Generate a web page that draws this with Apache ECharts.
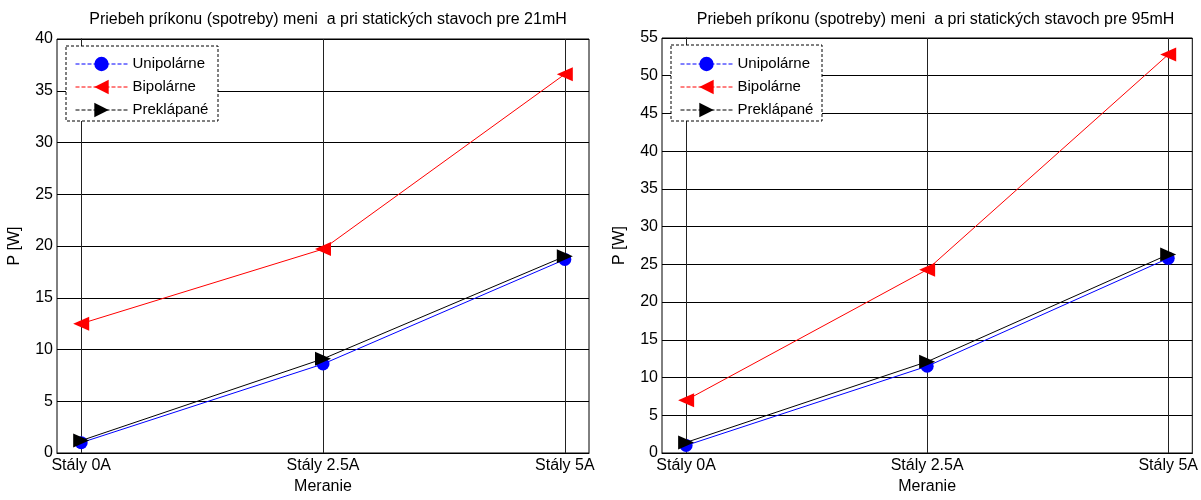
<!DOCTYPE html>
<html>
<head>
<meta charset="utf-8">
<script src="https://cdn.jsdelivr.net/npm/echarts@6/dist/echarts.min.js"></script>
<style>
html,body{margin:0;padding:0;background:#fff;}
#chart{width:1201px;height:500px;}
</style>
</head>
<body>
<div id="chart"></div>
<script>
// ---- data ----
var categories = ['Stály 0A', 'Stály 2.5A', 'Stály 5A'];
var seriesNames = ['Unipolárne', 'Bipolárne', 'Preklápané'];
// 21 mH
var uni21 = [1.0, 8.6, 18.7];
var bip21 = [12.5, 19.7, 36.6];
var pre21 = [1.2, 9.1, 19.0];
// 95 mH
var uni95 = [1.0, 11.5, 25.8];
var bip95 = [7.0, 24.3, 52.8];
var pre95 = [1.4, 12.1, 26.3];
var titles = [
  'Priebeh príkonu (spotreby) meni  a pri statických stavoch pre 21mH',
  'Priebeh príkonu (spotreby) meni  a pri statických stavoch pre 95mH'
];
var yMax = [40, 55];

// ---- chart ----
var FONT = '"Liberation Sans", Arial, sans-serif';
var FS = 16;
var chart = echarts.init(document.getElementById('chart'), null, {renderer: 'canvas'});
var catIdx = categories.map(function (c, i) { return i; });

function pts(arr) { return arr.map(function (v, i) { return [i, v]; }); }

var grids = [
  {left: 57, top: 39, width: 532, height: 421},
  {left: 662, top: 38, width: 537, height: 420}
];

function xAxisFor(g) {
  return {
    type: 'value', gridIndex: g, min: -0.1, max: 2.1,
    name: 'Meranie', nameLocation: 'middle', nameGap: 26,
    nameTextStyle: {color: '#000', fontSize: FS, fontFamily: FONT},
    axisLine: {show: true, onZero: false, lineStyle: {color: '#000', width: 1}},
    axisTick: {show: true, inside: true, length: 5, customValues: catIdx, lineStyle: {color: '#000'}},
    axisLabel: {customValues: catIdx, color: '#000', fontSize: FS, fontFamily: FONT, margin: 5,
      formatter: function (v) { return categories[Math.round(v)]; }},
    splitLine: {show: false}
  };
}
function yAxisFor(g) {
  return {
    type: 'value', gridIndex: g, min: 0, max: yMax[g], interval: 5,
    name: 'P [W]', nameLocation: 'middle', nameGap: 34, nameRotate: 90,
    nameTextStyle: {color: '#000', fontSize: FS, fontFamily: FONT},
    axisLine: {show: true, lineStyle: {color: '#000', width: 1}},
    axisTick: {show: true, inside: true, length: 5, lineStyle: {color: '#000'}},
    axisLabel: {color: '#000', fontSize: FS, fontFamily: FONT, margin: 4},
    splitLine: {show: true, lineStyle: {color: '#000', width: 1, type: 'solid'}}
  };
}

var styles = [
  {color: '#0000ff', symbol: 'circle', size: 13, rotate: 0},
  {color: '#ff0000', symbol: 'triangle', size: [14, 16], rotate: 90},
  {color: '#000000', symbol: 'triangle', size: [14, 16], rotate: -90}
];

var dataSets = [[uni21, bip21, pre21], [uni95, bip95, pre95]];
var series = [];
dataSets.forEach(function (set, g) {
  set.forEach(function (vals, k) {
    var st = styles[k];
    var s = {
      name: seriesNames[k], type: 'line', xAxisIndex: g, yAxisIndex: g,
      data: pts(vals), symbol: st.symbol, symbolSize: st.size, symbolRotate: st.rotate,
      showAllSymbol: true, animation: false,
      lineStyle: {color: st.color, width: 1, type: 'solid'},
      itemStyle: {color: st.color},
      z: 3 + k
    };
    if (k === 0) {
      s.markLine = {
        silent: true, symbol: 'none', animation: false,
        label: {show: false},
        lineStyle: {color: '#222', width: 1, type: 'solid'},
        data: catIdx.map(function (i) { return {xAxis: i}; }),
        z: 1
      };
    }
    series.push(s);
  });
});

function legendFor(left) {
  return {
    orient: 'vertical', left: left, top: 55, z: 10, padding: 0,
    itemWidth: 52, itemHeight: 18, itemGap: 5,
    textStyle: {color: '#000', fontSize: 15, fontFamily: FONT, lineHeight: 18},
    lineStyle: {type: 'dashed', width: 1},
    data: seriesNames.map(function (n, k) {
      return {name: n, lineStyle: {color: styles[k].color, type: 'dashed', width: 1}};
    }),
    selectedMode: false
  };
}

var option = {
  animation: false,
  backgroundColor: '#fff',
  title: titles.map(function (t, g) {
    return {
      text: t, left: grids[g].left + grids[g].width / 2, top: 7, textAlign: 'center',
      textStyle: {color: '#000', fontWeight: 'normal', fontSize: FS, fontFamily: FONT}
    };
  }),
  grid: grids.map(function (g) {
    return {left: g.left, top: g.top, width: g.width, height: g.height, show: true,
      borderColor: '#000', borderWidth: 1, backgroundColor: 'transparent', containLabel: false};
  }),
  xAxis: [xAxisFor(0), xAxisFor(1)],
  yAxis: [yAxisFor(0), yAxisFor(1)],
  legend: [legendFor(75), legendFor(680)],
  graphic: [
    {type: 'rect', z: 5, shape: {x: 66, y: 46, width: 152, height: 75},
      style: {fill: '#fff', stroke: '#000', lineWidth: 1, lineDash: [3, 2]}},
    {type: 'rect', z: 5, shape: {x: 671, y: 45, width: 151, height: 76},
      style: {fill: '#fff', stroke: '#000', lineWidth: 1, lineDash: [3, 2]}}
  ],
  series: series
};
chart.setOption(option);
</script>
</body>
</html>
